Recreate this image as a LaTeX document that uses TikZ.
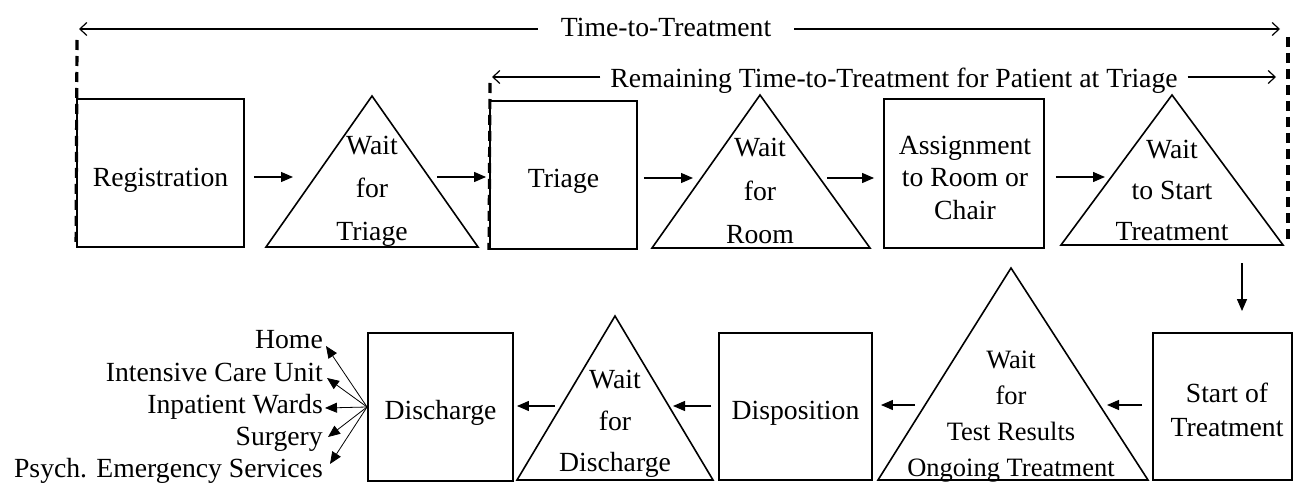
\documentclass[tikz,border=0pt]{standalone}
\usepackage{fontspec}
\setmainfont{Liberation Serif}
\usetikzlibrary{arrows.meta}
\begin{document}
\begin{tikzpicture}[x=1pt,y=-1pt,
  box/.style={draw, line width=1.9pt, inner sep=0pt},
  tri/.style={draw, line width=1.6pt, line join=miter},
  txt/.style={inner sep=0pt, align=center, font=\fontsize{27.7}{33}\selectfont},
  flow/.style={line width=1.3pt, -{Triangle[length=12pt,width=10pt]}},
  span/.style={line width=1.2pt, -{Straight Barb[length=7pt,width=13pt]}},
  fan/.style={line width=0.8pt, -{Triangle[length=12pt,width=10pt]}},
  dashline/.style={line width=3.2pt, dash pattern=on 10pt off 6pt}
]
\useasboundingbox (0,0) rectangle (1293,484);

% ---- top span labels
\node[txt, anchor=base, inner xsep=23pt] (tt) at (666,36.7) {Time-to-Treatment};
\coordinate (ttL) at (79,29);
\coordinate (ttR) at (1280,29);
\draw[span] (tt.west |- ttL) -- (ttL);
\draw[span] (tt.east |- ttR) -- (ttR);

\node[txt, anchor=base, inner xsep=10pt] (rt) at (894,87.5) {Remaining Time-to-Treatment for Patient at Triage};
\coordinate (rtL) at (492,77);
\coordinate (rtR) at (1276,77);
\draw[span] (rt.west |- rtL) -- (rtL);
\draw[span] (rt.east |- rtR) -- (rtR);

% ---- row 1 boxes
\node[box, minimum width=167pt, minimum height=148pt] (reg) at (160.5,173) {};
\node[txt] (regT) at (160.5,180) {Registration};
\node[box, minimum width=147pt, minimum height=148pt] (triage) at (563.5,175) {};
\node[txt] (triageT) at (563.5,181) {Triage};
\node[box, minimum width=160pt, minimum height=149pt] (asg) at (964,173.5) {};
\node[txt, font=\fontsize{27.7}{32.5}\selectfont] (asgT) at (965,177.5) {Assignment\\to Room or\\Chair};

% ---- row 1 triangles
\coordinate (t1a) at (372,96);  \coordinate (t1l) at (266,247);  \coordinate (t1r) at (478,247);
\draw[tri] (t1a) -- (t1r) -- (t1l) -- cycle;
\node[txt, font=\fontsize{27.7}{43}\selectfont] (t1T) at (372,191) {Wait\\for\\Triage};

\coordinate (t2a) at (760,95);  \coordinate (t2l) at (652,248);  \coordinate (t2r) at (870,248);
\draw[tri] (t2a) -- (t2r) -- (t2l) -- cycle;
\node[txt, font=\fontsize{27.7}{43.5}\selectfont] (t2T) at (760,191) {Wait\\for\\Room};

\coordinate (t3a) at (1172,95); \coordinate (t3l) at (1061,245); \coordinate (t3r) at (1283,245);
\draw[tri] (t3a) -- (t3r) -- (t3l) -- cycle;
\node[txt, font=\fontsize{27.7}{41}\selectfont] (t3T) at (1172,190) {Wait\\to Start\\Treatment};

% ---- dashed span markers
\coordinate (d1t) at (77,40);
\draw[dashline] (d1t) -- (reg.south west);
\coordinate (d2t) at (490,83);
\draw[dashline] (d2t) -- (triage.south west);
\coordinate (d3t) at (1288,37);
\coordinate (d3b) at (1288,245);
\draw[dashline] (d3t) -- (d3b);

% ---- row 2 boxes
\node[box, minimum width=139pt, minimum height=147pt] (sot) at (1222.5,406.5) {};
\node[txt, font=\fontsize{27.7}{34}\selectfont] (sotT) at (1227,410) {Start of\\Treatment};
\node[box, minimum width=153pt, minimum height=147pt] (dispo) at (795.5,406.5) {};
\node[txt] (dispoT) at (795.5,413) {Disposition};
\node[box, minimum width=145pt, minimum height=148pt] (disch) at (440.5,407) {};
\node[txt] (dischT) at (440.5,413) {Discharge};

% ---- row 2 triangles
\coordinate (t4a) at (1011,268); \coordinate (t4l) at (878,480); \coordinate (t4r) at (1148,480);
\draw[tri] (t4a) -- (t4r) -- (t4l) -- cycle;
\node[txt, font=\fontsize{26.5}{36}\selectfont] (t4T) at (1011,417) {Wait\\for\\Test Results\\Ongoing Treatment};

\coordinate (t5a) at (615,316); \coordinate (t5l) at (517,480); \coordinate (t5r) at (713,480);
\draw[tri] (t5a) -- (t5r) -- (t5l) -- cycle;
\node[txt, font=\fontsize{27.7}{41.5}\selectfont] (t5T) at (615,424) {Wait\\for\\Discharge};

% ---- flow arrows row 1
\coordinate (a1e) at (293,177);
\draw[flow, shorten <=9pt] (reg.east |- a1e) -- (a1e);
\coordinate (a2s) at (437,177);
\draw[flow, shorten >=3pt] (a2s) -- (a2s -| triage.west);
\coordinate (a3e) at (693,178);
\draw[flow, shorten <=6pt] (triage.east |- a3e) -- (a3e);
\coordinate (a4s) at (827,178);
\draw[flow, shorten >=9pt] (a4s) -- (a4s -| asg.west);
\coordinate (a5e) at (1105,177);
\draw[flow, shorten <=11pt] (asg.east |- a5e) -- (a5e);
\coordinate (a6s) at (1242,263);
\draw[flow, shorten >=21pt] (a6s) -- (a6s |- sot.north);

% ---- flow arrows row 2
\coordinate (a7e) at (1107,405);
\draw[flow, shorten <=10pt] (sot.west |- a7e) -- (a7e);
\coordinate (a8s) at (915,405);
\draw[flow, shorten >=8pt] (a8s) -- (a8s -| dispo.east);
\coordinate (a9e) at (673,406);
\draw[flow, shorten <=7pt] (dispo.west |- a9e) -- (a9e);
\coordinate (a10s) at (555,406);
\draw[flow, shorten >=3pt] (a10s) -- (a10s -| disch.east);

% ---- discharge destinations
\node[txt, anchor=base east] (home) at (323,348) {Home};
\node[txt, anchor=base east] (icu) at (323,381) {Intensive Care Unit};
\node[txt, anchor=base east] (inp) at (323,413) {Inpatient Wards};
\node[txt, anchor=base east] (surg) at (323,445) {Surgery};
\node[txt, anchor=base east] (psych) at (323,477) {Psych. Emergency Services};
\coordinate (fHome) at (326,346);
\coordinate (fIcu) at (327,378);
\coordinate (fInp) at (325,408);
\coordinate (fSurg) at (328,437);
\coordinate (fPsych) at (330,464);
\draw[fan] (disch.west) -- (fHome);
\draw[fan] (disch.west) -- (fIcu);
\draw[fan] (disch.west) -- (fInp);
\draw[fan] (disch.west) -- (fSurg);
\draw[fan] (disch.west) -- (fPsych);
\end{tikzpicture}
\end{document}
